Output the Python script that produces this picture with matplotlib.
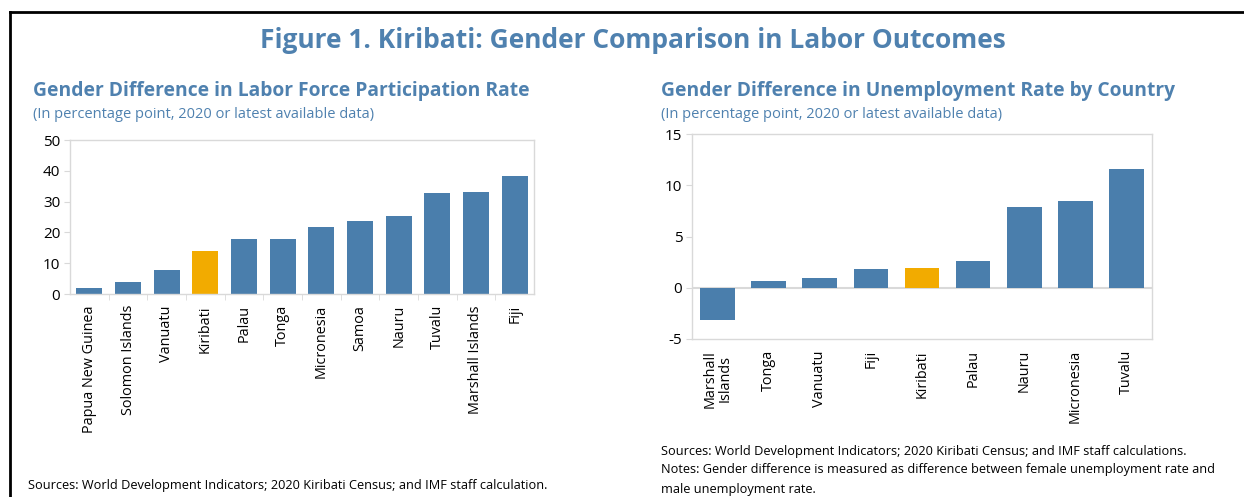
import matplotlib.pyplot as plt
from matplotlib.lines import Line2D

plt.rcParams['font.family'] = ['Open Sans', 'DejaVu Sans']
plt.rcParams['axes.unicode_minus'] = False

# data
lfp_countries = ["Papua New Guinea", "Solomon Islands", "Vanuatu", "Kiribati", "Palau",
                 "Tonga", "Micronesia", "Samoa", "Nauru", "Tuvalu", "Marshall Islands", "Fiji"]
lfp_values = [1.8, 3.9, 7.8, 13.9, 17.7, 17.7, 21.6, 23.6, 25.2, 32.7, 33.2, 38.4]

unemp_countries = ["Marshall\nIslands", "Tonga", "Vanuatu", "Fiji", "Kiribati",
                   "Palau", "Nauru", "Micronesia", "Tuvalu"]
unemp_values = [-3.15, 0.7, 0.97, 1.85, 1.92, 2.6, 7.9, 8.5, 11.6]

blue = "#4A7EAC"
orange = "#F2AB00"
title_col = "#4F81AF"
frame_col = "#D9D9D9"

W, H = 1244, 497
fig = plt.figure(figsize=(W / 100, H / 100), dpi=100)


def fx(px):
    return px / W


def fy(py):
    return 1 - py / H


# outer frame (top and left lines only visible)
fig.add_artist(Line2D([fx(10), fx(1244)], [fy(12), fy(12)], color="black", lw=2))
fig.add_artist(Line2D([fx(10), fx(10)], [fy(12), fy(497)], color="black", lw=2))

fig.text(fx(633), fy(41), "Figure 1. Kiribati: Gender Comparison in Labor Outcomes",
         ha="center", va="center", fontsize=19, fontweight="bold", color=title_col)


def style_axes(ax):
    for s in ax.spines.values():
        s.set_color(frame_col)
        s.set_linewidth(1)
    ax.tick_params(axis="y", length=4, color=frame_col, labelsize=11, pad=3)
    ax.tick_params(axis="x", length=0, labelsize=10.4, labelrotation=90, pad=8)


# left chart
ax1 = fig.add_axes([fx(70), fy(294), fx(534) - fx(70), fy(140) - fy(294)])
cols1 = [orange if c == "Kiribati" else blue for c in lfp_countries]
x1 = range(len(lfp_countries))
ax1.bar(x1, lfp_values, width=0.68, color=cols1)
ax1.set_xlim(-0.5, len(lfp_countries) - 0.5)
ax1.set_ylim(0, 50)
ax1.set_yticks([0, 10, 20, 30, 40, 50])
ax1.set_xticks(list(x1))
ax1.set_xticklabels(lfp_countries)
ax1.set_xticks([i + 0.5 for i in range(len(lfp_countries) - 1)], minor=True)
ax1.tick_params(axis="x", which="minor", length=4, color=frame_col)
style_axes(ax1)

fig.text(fx(33), fy(91), "Gender Difference in Labor Force Participation Rate",
         ha="left", va="center", fontsize=13.9, fontweight="bold", color=title_col)
fig.text(fx(33), fy(114), "(In percentage point, 2020 or latest available data)",
         ha="left", va="center", fontsize=10.5, color=title_col)
fig.text(fx(28), fy(486), "Sources: World Development Indicators; 2020 Kiribati Census; and IMF staff calculation.",
         ha="left", va="center", fontsize=9.2)

# right chart
ax2 = fig.add_axes([fx(692), fy(339), fx(1152) - fx(692), fy(134) - fy(339)])
cols2 = [orange if c == "Kiribati" else blue for c in unemp_countries]
x2 = range(len(unemp_countries))
ax2.bar(x2, unemp_values, width=0.68, color=cols2, zorder=2)
ax2.axhline(0, color=frame_col, lw=1.5, zorder=1)
ax2.set_xlim(-0.5, len(unemp_countries) - 0.5)
ax2.set_ylim(-5, 15)
ax2.set_yticks([-5, 0, 5, 10, 15])
ax2.set_xticks(list(x2))
ax2.set_xticklabels(unemp_countries, linespacing=1.0)
style_axes(ax2)

fig.text(fx(661), fy(91), "Gender Difference in Unemployment Rate by Country",
         ha="left", va="center", fontsize=13.9, fontweight="bold", color=title_col)
fig.text(fx(661), fy(114), "(In percentage point, 2020 or latest available data)",
         ha="left", va="center", fontsize=10.5, color=title_col)
fig.text(fx(661), fy(452), "Sources: World Development Indicators; 2020 Kiribati Census; and IMF staff calculations.",
         ha="left", va="center", fontsize=9.2)
fig.text(fx(661), fy(470), "Notes: Gender difference is measured as difference between female unemployment rate and",
         ha="left", va="center", fontsize=9.2)
fig.text(fx(661), fy(489), "male unemployment rate.",
         ha="left", va="center", fontsize=9.2)

fig.savefig("out.png", dpi=100)
